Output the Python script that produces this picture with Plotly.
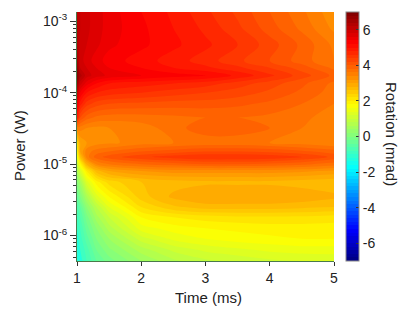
import numpy as np
import plotly.graph_objects as go

# Time axis (ms)
times = [1.0, 1.05, 1.15, 1.3, 1.5, 2.0, 2.5, 3.0, 3.5, 4.0, 4.5, 5.0]
# Power axis (W), bottom to top
powers = [4.4e-7, 6.3e-7, 9e-7, 1.26e-6, 1.8e-6, 2.5e-6, 3.5e-6, 5.6e-6, 8e-6,
          1e-5, 1.26e-5, 1.5e-5, 2e-5, 3.2e-5, 4.5e-5, 7e-5, 1e-4, 1.35e-4,
          1.74e-4, 2.24e-4, 2.8e-4, 4.7e-4, 8e-4, 1.35e-3]
# Rotation (mrad), one row per power (bottom to top), one column per time
rotation = [
    [-1.2, -1.1, -0.8, -0.4, -0.1, 0.4, 0.75, 0.95, 1.05, 1.15, 1.2, 1.25],
    [-1.15, -1.0, -0.7, -0.2, 0.15, 0.7, 1.05, 1.25, 1.35, 1.45, 1.5, 1.5],
    [-1.1, -0.9, -0.5, 0.0, 0.4, 1.1, 1.45, 1.6, 1.7, 1.75, 1.8, 1.8],
    [-1.0, -0.8, -0.3, 0.2, 0.7, 1.5, 1.7, 1.8, 1.85, 1.9, 1.9, 1.9],
    [-0.9, -0.6, -0.1, 0.5, 1.0, 1.8, 2.0, 2.1, 2.15, 2.15, 2.15, 2.1],
    [-0.7, -0.4, 0.2, 0.8, 1.4, 2.2, 2.55, 2.7, 2.7, 2.7, 2.65, 2.6],
    [-0.4, 0.0, 0.6, 1.3, 1.8, 2.5, 2.85, 3.0, 3.0, 3.0, 2.95, 2.85],
    [0.1, 0.5, 1.3, 1.9, 2.3, 2.6, 2.7, 2.75, 2.75, 2.75, 2.7, 2.65],
    [0.6, 1.2, 2.0, 2.7, 3.0, 3.2, 3.3, 3.3, 3.3, 3.3, 3.25, 3.15],
    [1.0, 1.8, 2.8, 3.4, 3.6, 3.8, 3.9, 4.0, 4.0, 3.95, 3.85, 3.7],
    [1.5, 2.6, 3.5, 3.9, 4.1, 4.35, 4.5, 4.6, 4.6, 4.55, 4.4, 4.15],
    [1.8, 3.0, 3.5, 3.7, 3.8, 4.0, 4.1, 4.2, 4.2, 4.15, 4.05, 3.9],
    [2.2, 3.0, 3.2, 3.3, 3.35, 3.5, 3.6, 3.65, 3.65, 3.6, 3.5, 3.4],
    [3.5, 3.5, 3.4, 3.35, 3.4, 3.5, 3.7, 3.95, 3.95, 3.8, 3.6, 3.45],
    [4.9, 4.2, 3.9, 3.75, 3.7, 3.7, 3.75, 3.8, 3.8, 3.75, 3.65, 3.5],
    [5.6, 4.9, 4.5, 4.3, 4.2, 4.15, 4.1, 4.1, 4.05, 3.95, 3.8, 3.6],
    [6.1, 5.4, 5.0, 4.8, 4.7, 4.6, 4.5, 4.4, 4.3, 4.15, 3.95, 3.7],
    [6.7, 5.9, 5.5, 5.2, 5.0, 4.9, 4.8, 4.7, 4.5, 4.3, 4.05, 3.75],
    [7.0, 6.3, 5.9, 5.7, 5.55, 5.4, 5.3, 5.2, 4.95, 4.65, 4.3, 3.95],
    [6.8, 6.0, 5.8, 5.6, 5.4, 5.2, 5.0, 4.85, 4.65, 4.4, 4.1, 3.75],
    [6.6, 5.9, 5.7, 5.5, 5.3, 5.1, 4.9, 4.7, 4.45, 4.2, 3.9, 3.6],
    [6.4, 5.9, 5.8, 5.65, 5.45, 5.25, 5.05, 4.85, 4.6, 4.3, 3.95, 3.55],
    [6.3, 6.0, 5.85, 5.7, 5.5, 5.25, 5.0, 4.75, 4.45, 4.1, 3.75, 3.35],
    [6.2, 6.0, 5.85, 5.7, 5.5, 5.2, 4.95, 4.65, 4.35, 4.0, 3.65, 3.25],
]
cbar_ticks = [-6, -4, -2, 0, 2, 4, 6]
cbar_labels = ["-6", "-4", "-2", "0", "2", "4", "6"]
y_ticks = [1e-6, 1e-5, 1e-4, 1e-3]
y_labels = ["10<sup>-6</sup>", "10<sup>-5</sup>", "10<sup>-4</sup>", "10<sup>-3</sup>"]

jet = [[0.0, "rgb(0,0,128)"], [0.125, "rgb(0,0,255)"], [0.375, "rgb(0,255,255)"],
       [0.625, "rgb(255,255,0)"], [0.875, "rgb(255,0,0)"], [1.0, "rgb(128,0,0)"]]

FONT = "Liberation Sans, Arial, sans-serif"
L, R, T, B = 77, 81, 12, 55
W, H = 415, 316
pw, ph = W - L - R, H - T - B

def px_x(p):
    return (p - L) / pw

def px_y(p):
    return (H - B - p) / ph

fig = go.Figure(go.Contour(
    x=times, y=powers, z=rotation,
    colorscale=jet, zmin=-7, zmax=7,
    contours=dict(start=-7, end=7, size=0.2, coloring="fill", showlines=False),
    line=dict(width=0),
    colorbar=dict(
        x=px_x(345.5), xanchor="left", xpad=0, y=0.5, yanchor="middle", ypad=0,
        len=1, lenmode="fraction", thickness=13,
        outlinewidth=1, outlinecolor="#888888",
        tickvals=cbar_ticks, ticktext=cbar_labels,
        ticks="inside", ticklen=3, tickcolor="#333333",
        tickfont=dict(family=FONT, size=14, color="#222222"),
    ),
    hoverinfo="skip",
))

ann_font = dict(family=FONT, size=15, color="#222222")
fig.update_layout(
    width=W, height=H,
    margin=dict(l=L, r=R, t=T, b=B, pad=0, autoexpand=False),
    paper_bgcolor="white", plot_bgcolor="white",
    font=dict(family=FONT, size=14, color="#222222"),
    xaxis=dict(range=[times[0], times[-1]], tickvals=[1, 2, 3, 4, 5],
               ticks="outside", ticklen=4, tickcolor="#333333",
               showline=True, linecolor="#4a7a4a", linewidth=1,
               showgrid=False, zeroline=False, mirror=False,
               tickfont=dict(family=FONT, size=14, color="#222222")),
    yaxis=dict(type="log", range=[np.log10(powers[0]), np.log10(powers[-1])],
               tickvals=y_ticks, ticktext=y_labels,
               ticks="outside", ticklen=6, tickcolor="#333333",
               minor=dict(ticks="outside", ticklen=3, tickcolor="#333333", dtick="D1", showgrid=False),
               showline=True, linecolor="#4a7a4a", linewidth=1,
               showgrid=False, zeroline=False,
               tickfont=dict(family=FONT, size=14, color="#222222")),
    annotations=[
        dict(text="Power (W)", x=px_x(19), y=px_y(146), xref="paper", yref="paper",
             xanchor="center", yanchor="middle",
             showarrow=False, textangle=-90, font=ann_font),
        dict(text="Time (ms)", x=px_x(208), y=px_y(297), xref="paper", yref="paper",
             xanchor="center", yanchor="middle",
             showarrow=False, font=ann_font),
        dict(text="Rotation (mrad)", x=px_x(392), y=px_y(134), xref="paper", yref="paper",
             xanchor="center", yanchor="middle",
             showarrow=False, textangle=90, font=ann_font),
    ],
)

fig.write_html("out.html", config={"displayModeBar": False, "staticPlot": True},
               post_script="document.body.style.margin='0';document.body.style.overflow='hidden';")
